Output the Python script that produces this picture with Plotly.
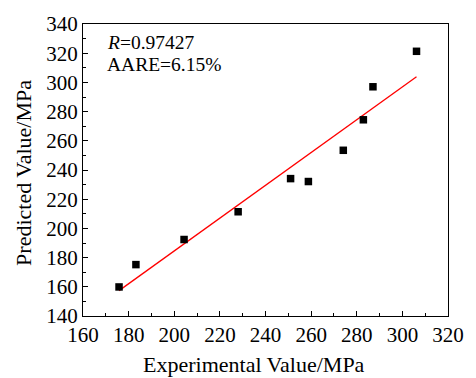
import plotly.graph_objects as go

experimental = [175.8, 183.2, 204.3, 228.0, 251.0, 258.8, 274.1, 282.9, 287.1, 306.2]
predicted = [159.9, 175.2, 192.4, 211.4, 234.1, 232.1, 253.5, 274.4, 297.0, 321.3]
fit_x = [175.8, 306.2]
fit_y = [157.4, 303.9]
x_ticks = [160, 180, 200, 220, 240, 260, 280, 300, 320]
y_ticks = [140, 160, 180, 200, 220, 240, 260, 280, 300, 320, 340]

FONT = "Liberation Serif, Times New Roman, serif"

fig = go.Figure()
fig.add_trace(go.Scatter(x=fit_x, y=fit_y, mode="lines",
                         line=dict(color="#ff0000", width=1.3), showlegend=False))
fig.add_trace(go.Scatter(x=experimental, y=predicted, mode="markers",
                         marker=dict(symbol="square", size=7.5, color="black"),
                         showlegend=False))

axis_common = dict(showline=True, linecolor="black", linewidth=1.2, mirror=True,
                   ticks="inside", ticklen=5, tickwidth=1, tickcolor="black",
                   showgrid=False, zeroline=False,
                   tickfont=dict(family=FONT, size=21, color="black"),
                   minor=dict(ticks="inside", ticklen=3, tickcolor="black", dtick=10))

fig.update_xaxes(range=[160, 320], tickvals=x_ticks, **axis_common)
fig.update_yaxes(range=[140, 340], tickvals=y_ticks, **axis_common)

# axis titles (placed as paper annotations to match the reference positions)
fig.add_annotation(x=(255 - 83) / 368, y=-(366 - 316) / 299, xref="paper", yref="paper",
                   xanchor="center", yanchor="middle", showarrow=False,
                   text="Experimental Value/MPa",
                   font=dict(family=FONT, size=22, color="black"))
fig.add_annotation(x=-(83 - 23) / 368, y=(316 - 169) / 299, xref="paper", yref="paper",
                   xanchor="center", yanchor="middle", showarrow=False, textangle=-90,
                   text="Predicted Value/MPa",
                   font=dict(family=FONT, size=22, color="black"))

fig.add_annotation(x=0.06, y=0.935, xref="paper", yref="paper", xanchor="left", yanchor="middle",
                   text="<i>R</i>=0.97427", showarrow=False,
                   font=dict(family=FONT, size=19.5, color="black"))
fig.add_annotation(x=0.06, y=0.862, xref="paper", yref="paper", xanchor="left", yanchor="middle",
                   text="AARE=6.15%", showarrow=False,
                   font=dict(family=FONT, size=19.5, color="black"))

fig.update_layout(width=476, height=378, margin=dict(l=83, r=25, t=17, b=62),
                  plot_bgcolor="white", paper_bgcolor="white")
fig.write_html("out.html")
